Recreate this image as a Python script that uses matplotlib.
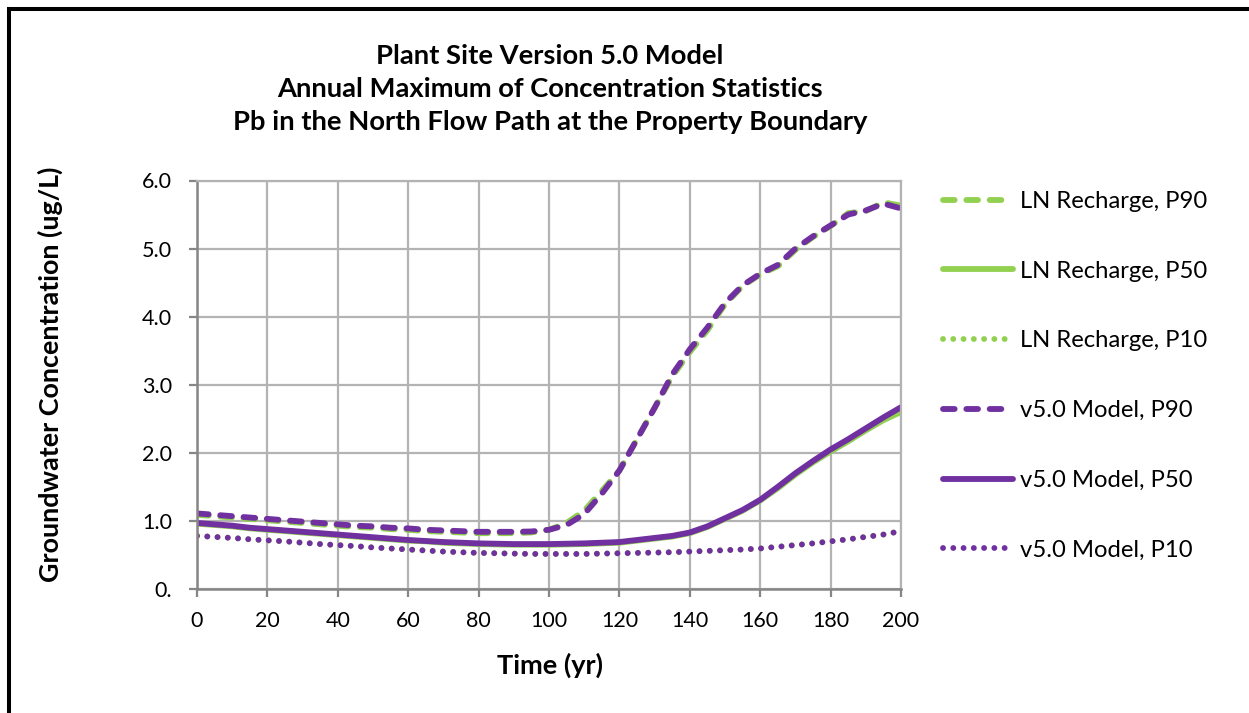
import matplotlib
matplotlib.use("Agg")
import matplotlib.pyplot as plt
from matplotlib.lines import Line2D

plt.rcParams['font.family'] = ['Lato', 'DejaVu Sans']

# Time axis (years)
years = [0, 5, 10, 15, 20, 25, 30, 35, 40, 45, 50, 55, 60, 65, 70, 75, 80, 85, 90, 95,
         100, 105, 110, 115, 120, 125, 130, 135, 140, 145, 150, 155, 160, 165, 170, 175,
         180, 185, 190, 195, 200]

# LN Recharge percentiles (ug/L)
ln_p90 = [1.09, 1.07, 1.05, 1.03, 1.01, 0.99, 0.97, 0.95, 0.93, 0.91, 0.90, 0.88, 0.87,
          0.85, 0.84, 0.83, 0.82, 0.82, 0.82, 0.83, 0.87, 0.97, 1.15, 1.44, 1.74, 2.20,
          2.66, 3.12, 3.48, 3.80, 4.18, 4.45, 4.62, 4.74, 4.98, 5.17, 5.33, 5.52, 5.55,
          5.68, 5.63]
ln_p50 = [0.96, 0.94, 0.92, 0.89, 0.87, 0.85, 0.83, 0.81, 0.79, 0.77, 0.75, 0.73, 0.71,
          0.70, 0.68, 0.67, 0.66, 0.655, 0.65, 0.65, 0.65, 0.655, 0.66, 0.67, 0.68, 0.71,
          0.74, 0.77, 0.82, 0.91, 1.03, 1.15, 1.30, 1.48, 1.68, 1.86, 2.02, 2.17, 2.33,
          2.48, 2.60]
ln_p10 = [0.78, 0.765, 0.75, 0.73, 0.715, 0.70, 0.68, 0.66, 0.645, 0.63, 0.61, 0.595,
          0.58, 0.565, 0.55, 0.54, 0.53, 0.525, 0.52, 0.515, 0.515, 0.515, 0.515, 0.52,
          0.525, 0.53, 0.535, 0.54, 0.55, 0.56, 0.57, 0.58, 0.595, 0.62, 0.645, 0.67,
          0.70, 0.73, 0.765, 0.80, 0.85]

# v5.0 Model percentiles (ug/L)
v5_p90 = [1.11, 1.09, 1.07, 1.05, 1.03, 1.01, 0.99, 0.97, 0.95, 0.93, 0.92, 0.90, 0.89,
          0.87, 0.86, 0.85, 0.84, 0.84, 0.84, 0.845, 0.87, 0.94, 1.10, 1.40, 1.74, 2.20,
          2.66, 3.15, 3.52, 3.84, 4.20, 4.46, 4.63, 4.76, 5.00, 5.18, 5.34, 5.50, 5.56,
          5.66, 5.59]
v5_p50 = [0.97, 0.95, 0.93, 0.90, 0.88, 0.86, 0.84, 0.82, 0.80, 0.78, 0.76, 0.74, 0.72,
          0.705, 0.69, 0.68, 0.67, 0.665, 0.66, 0.66, 0.66, 0.665, 0.67, 0.68, 0.69, 0.72,
          0.75, 0.78, 0.83, 0.92, 1.04, 1.16, 1.31, 1.50, 1.70, 1.88, 2.05, 2.20, 2.36,
          2.52, 2.67]
v5_p10 = [0.78, 0.765, 0.75, 0.73, 0.715, 0.70, 0.68, 0.66, 0.645, 0.63, 0.61, 0.595,
          0.58, 0.565, 0.55, 0.54, 0.53, 0.525, 0.52, 0.515, 0.515, 0.515, 0.515, 0.52,
          0.525, 0.53, 0.535, 0.54, 0.55, 0.56, 0.57, 0.58, 0.595, 0.62, 0.645, 0.67,
          0.70, 0.73, 0.765, 0.80, 0.85]

x_ticks = [0, 20, 40, 60, 80, 100, 120, 140, 160, 180, 200]
y_ticks = [0, 1, 2, 3, 4, 5, 6]
y_tick_labels = ["0.", "1.0", "2.0", "3.0", "4.0", "5.0", "6.0"]

title_lines = ["Plant Site Version 5.0 Model",
               "Annual Maximum of Concentration Statistics",
               "Pb in the North Flow Path at the Property Boundary"]

GREEN = "#92D050"
PURPLE = "#7030A0"
GRID = "#B3B3B3"
AXIS = "#868686"

W, H = 1249, 713
fig = plt.figure(figsize=(W / 100, H / 100), dpi=100)
fig.patch.set_facecolor("white")

ax = fig.add_axes([197 / W, 1 - 589 / H, (901 - 197) / W, (589 - 180.5) / H])

lw = 4.2
dash = (2.0, 2.0)
dot = (0.01, 1.75)

series = [
    (ln_p90, GREEN, dash, "LN Recharge, P90"),
    (ln_p50, GREEN, None, "LN Recharge, P50"),
    (ln_p10, GREEN, dot, "LN Recharge, P10"),
    (v5_p90, PURPLE, dash, "v5.0 Model, P90"),
    (v5_p50, PURPLE, None, "v5.0 Model, P50"),
    (v5_p10, PURPLE, dot, "v5.0 Model, P10"),
]

handles = []
for vals, color, pattern, label in series:
    kw = dict(color=color, lw=lw, solid_capstyle="round", dash_capstyle="round",
              solid_joinstyle="round", dash_joinstyle="round", label=label)
    if pattern is not None:
        kw["dashes"] = pattern
    line, = ax.plot(years, vals, **kw)
    handles.append(line)

ax.set_xlim(0, 200)
ax.set_ylim(0, 6)
ax.set_xticks(x_ticks)
ax.set_yticks(y_ticks)
ax.set_yticklabels(y_tick_labels)
ax.grid(True, color=GRID, lw=1.6)
ax.set_axisbelow(True)

for side in ("top", "right"):
    ax.spines[side].set_color(GRID)
    ax.spines[side].set_linewidth(1.6)
for side in ("left", "bottom"):
    ax.spines[side].set_color(AXIS)
    ax.spines[side].set_linewidth(1.8)

ax.tick_params(axis="both", direction="out", length=6, width=1.6, color=AXIS,
               labelsize=15.5, labelcolor="black")
ax.tick_params(axis="y", pad=12)
ax.tick_params(axis="x", pad=10)

ax.set_xlabel("Time (yr)", fontsize=19.5, fontweight="bold", va="center")
ax.xaxis.set_label_coords((550 - 197) / 704, (589 - 665) / 408.5)
ax.set_ylabel("Groundwater Concentration (ug/L)", fontsize=19.4, fontweight="bold",
              va="center")
ax.yaxis.set_label_coords((50 - 197) / 704, (589 - 374) / 408.5)

fig.text(550 / W, 1 - 89 / H, "\n".join(title_lines), ha="center", va="center",
         fontsize=19.7, fontweight="bold", linespacing=1.44)

leg = fig.legend(handles=handles, loc="upper left",
                 bbox_to_anchor=(943 / W, 1 - 191 / H), frameon=False,
                 fontsize=17.2, handlelength=2.93, handletextpad=0.3,
                 labelspacing=2.04, borderpad=0, borderaxespad=0)

# Outer chart frame
fig.add_artist(Line2D([8.5 / W, 1.0], [1 - 9 / H, 1 - 9 / H], color="black", lw=2.9,
                      transform=fig.transFigure, solid_capstyle="projecting"))
fig.add_artist(Line2D([8.5 / W, 8.5 / W], [0.0, 1 - 9 / H], color="black", lw=2.9,
                      transform=fig.transFigure, solid_capstyle="projecting"))

fig.savefig("out.png", dpi=100, facecolor="white")
